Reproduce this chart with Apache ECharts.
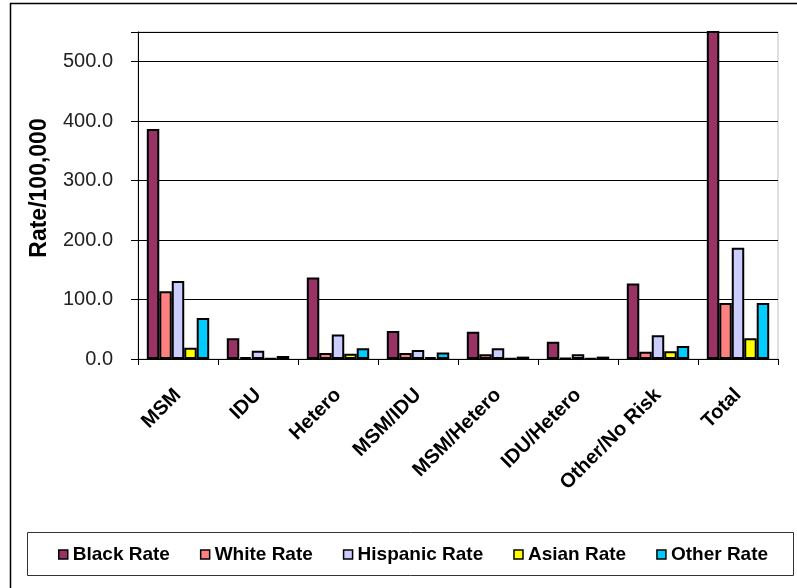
<!DOCTYPE html>
<html>
<head>
<meta charset="utf-8">
<script src="https://cdn.jsdelivr.net/npm/echarts@6/dist/echarts.min.js"></script>
<style>html,body{margin:0;padding:0;background:#fff;}#c{width:797px;height:588px;}</style>
</head>
<body>
<div id="c"></div>
<script>
const categories = ['MSM', 'IDU', 'Hetero', 'MSM/IDU', 'MSM/Hetero', 'IDU/Hetero', 'Other/No Risk', 'Total'];
const blackRate = [387, 35, 137, 47, 46, 29, 127, 620];
const whiteRate = [114, 3, 10, 10, 8, 2, 12, 94];
const hispanicRate = [131, 14, 41, 15, 18, 8, 40, 187];
const asianRate = [19, 1, 9, 3, 0.5, 1, 13, 35];
const otherRate = [69, 5, 18, 11, 4, 4, 22, 94];
const yTicks = [0, 100, 200, 300, 400, 500];
const yTitle = 'Rate/100,000';

const seriesDefs = [
  ['Black Rate', blackRate, '#993366'],
  ['White Rate', whiteRate, '#FF8080'],
  ['Hispanic Rate', hispanicRate, '#CCCCFF'],
  ['Asian Rate', asianRate, '#FFFF00'],
  ['Other Rate', otherRate, '#00CCFF']
];

const chart = echarts.init(document.getElementById('c'), null, {renderer: 'canvas'});
chart.setOption({
  animation: false,
  backgroundColor: '#fff',
  graphic: [
    {type: 'rect', shape: {x: 10.5, y: 3.5, width: 900, height: 700}, style: {fill: 'none', stroke: '#000', lineWidth: 1.5}, z: 0},
    {type: 'rect', shape: {x: 27.5, y: 532.5, width: 766, height: 43}, style: {fill: 'none', stroke: '#333', lineWidth: 1}, z: 0},
    {type: 'text', x: 40, y: 188, rotation: Math.PI / 2,
      style: {text: yTitle, align: 'center', verticalAlign: 'middle', fill: '#000',
        font: 'bold 23px "Liberation Sans"'}, z: 5}
  ],
  grid: {left: 138, right: 19, top: 32, bottom: 229, show: true, borderColor: '#c0c0c0', borderWidth: 1},
  legend: {
    left: 53, top: 540, itemWidth: 9, itemHeight: 9, itemGap: 30,
    icon: 'rect',
    itemStyle: {borderColor: '#000', borderWidth: 1.5},
    textStyle: {fontFamily: 'Liberation Sans', fontSize: 19, fontWeight: 'bold', color: '#000', padding: [0, 0, 0, 0]},
    data: seriesDefs.map(s => s[0])
  },
  xAxis: {
    type: 'category', data: categories,
    axisLine: {lineStyle: {color: '#000', width: 1}},
    axisTick: {show: true, length: 6, lineStyle: {color: '#000'}},
    axisLabel: {rotate: 45, interval: 0, margin: 33, fontFamily: 'Liberation Sans', fontSize: 20, fontWeight: 'bold', color: '#000'}
  },
  yAxis: {
    type: 'value', min: 0, max: 550, interval: 100,
    axisLine: {show: true, lineStyle: {color: '#000', width: 1}},
    axisTick: {show: true, length: 7, lineStyle: {color: '#000'}},
    axisLabel: {margin: 25, fontFamily: 'Liberation Sans', fontSize: 20, color: '#222',
      formatter: v => yTicks.includes(v) ? v.toFixed(1) : ''},
    splitLine: {show: true, lineStyle: {color: '#000', width: 1}}
  },
  series: seriesDefs.map(s => ({
    name: s[0], type: 'bar', data: s[1], clip: true,
    barGap: '0%', barCategoryGap: '22%',
    itemStyle: {color: s[2], borderColor: '#000', borderWidth: 2}
  }))
});
</script>
</body>
</html>
